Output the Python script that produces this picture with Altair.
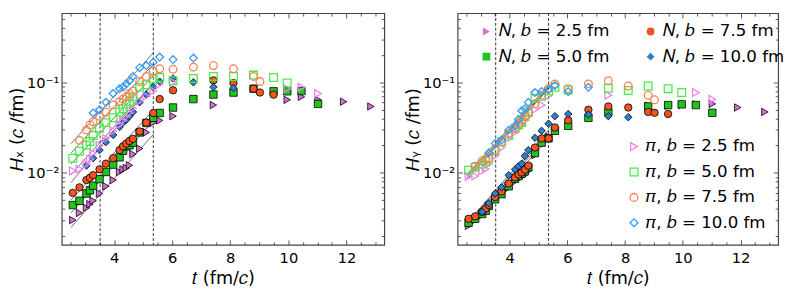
import altair as alt
import pandas as pd

# time grid (fm/c)
T = [2.58, 2.81, 3.05, 3.17, 3.28, 3.50, 3.72, 3.97, 4.19, 4.31, 4.42, 4.53, 4.65,
     4.88, 5.11, 5.35, 5.57, 6.03, 6.73, 7.42, 8.11, 8.80, 9.02, 9.49, 9.96, 10.45,
     11.02, 11.90, 12.84]

N_LABELS = ["𝑁, 𝑏 = 2.5 fm", "𝑁, 𝑏 = 5.0 fm", "𝑁, 𝑏 = 7.5 fm", "𝑁, 𝑏 = 10.0 fm"]
P_LABELS = ["𝜋, 𝑏 = 2.5 fm", "𝜋, 𝑏 = 5.0 fm", "𝜋, 𝑏 = 7.5 fm", "𝜋, 𝑏 = 10.0 fm"]
N_COLORS = ["#D86ED8", "#1FC41F", "#EE5522", "#2A7FD4"]
P_COLORS = ["#EE82EE", "#44EE44", "#FF7F50", "#3399FF"]
SHAPES = ["triangle-right", "square", "circle", "diamond"]

_ = None
# ---- H_x panel ----
HX_N25 = [0.0030, 0.0036, 0.0041, 0.0045, 0.0049, 0.0059, 0.0071, 0.0083, 0.0102, 0.0109, 0.0113, 0.0121, 0.0161,
          0.0185, 0.0279, 0.0358, 0.0379, 0.0422, _, 0.056, _, _, _, _, 0.064, 0.069, 0.064, 0.061, 0.054]
HX_N50 = [0.0044, 0.0049, 0.0059, 0.0064, 0.0072, 0.0085, 0.0102, 0.0123, 0.0148, 0.0175, 0.0196, 0.0201, 0.0215,
          0.0279, 0.0355, 0.0405, 0.0458, 0.0526, 0.0652, 0.0731, 0.0769, 0.0849, _, 0.0794, 0.0794, 0.0801, 0.0577, _, _]
HX_N75 = [0.0060, 0.0069, 0.0083, 0.0088, 0.0094, 0.0109, 0.0126, 0.0145, 0.0178, 0.0196, 0.0210, 0.0224, 0.0237,
          0.0286, 0.0358, 0.0458, 0.0652, 0.0815, _, 0.105, 0.098, 0.0849, 0.077, 0.073, _, _, _, _, _]
HX_N100 = [_, _, 0.0120, _, 0.0145, 0.0178, 0.0218, 0.0262, 0.0321, 0.0358, 0.0386, 0.0422, 0.0469,
           0.0601, 0.0731, 0.0884, 0.1017, 0.110, 0.100, 0.0884, 0.0863, _, _, _, _, _, _, _, _]
HX_P25 = [0.0105, 0.0110, 0.0125, 0.0140, 0.0165, 0.0200, 0.0240, 0.0290, 0.0340, 0.0380, 0.0420, 0.0460, 0.0520,
          0.0620, 0.0700, 0.0800, 0.0950, 0.100, _, _, _, _, _, _, 0.085, 0.088, 0.075, _, _]
HX_P50 = [0.0145, 0.0173, 0.0201, 0.0222, 0.0258, 0.0311, 0.0358, 0.0405, 0.0469, 0.0509, 0.0577, 0.0611, 0.0690,
          0.0884, 0.0936, 0.1086, 0.113, 0.104, 0.110, 0.116, 0.116, 0.120, _, 0.113, 0.098, _, _, _, _]
HX_P75 = [_, 0.0228, 0.0296, 0.0338, 0.0366, 0.0422, 0.0469, 0.0562, 0.0611, 0.0652, 0.0690, 0.0750, 0.0794,
          0.1017, 0.116, 0.133, 0.141, 0.139, 0.147, 0.153, 0.141, 0.116, 0.1017, _, _, _, _, _, _]
HX_P100 = [_, _, _, _, 0.0458, 0.0497, 0.0601, 0.0750, 0.0849, 0.0884, 0.0960, 0.104, 0.116,
           0.145, 0.153, 0.166, 0.190, 0.178, 0.185, _, _, _, _, _, _, _, _, _, _]

# ---- H_y panel ----
HY_N25 = [0.0026, 0.0030, 0.0034, 0.0037, 0.0041, 0.0050, 0.0057, 0.0068, 0.0080, 0.0086, 0.0090, 0.0095, 0.0105,
          0.0157, _, 0.0250, _, _, _, _, _, 0.055, _, 0.055, 0.056, 0.057, 0.0577, 0.0526, 0.047]
HY_N50 = [0.0028, 0.0031, 0.0035, 0.0038, 0.0043, 0.0051, 0.0058, 0.0071, 0.0086, 0.0092, 0.0098, 0.0104, 0.0115,
          0.0165, 0.0215, 0.0240, 0.0291, 0.0330, 0.0405, 0.047, _, 0.054, _, 0.056, 0.057, 0.056, 0.046, _, _]
HY_N75 = [0.0031, 0.0033, 0.0037, 0.0040, 0.0044, 0.0054, 0.0062, 0.0076, 0.0089, 0.0096, 0.0101, 0.0108, 0.0120,
          0.0190, 0.0240, 0.0240, 0.0316, 0.0380, 0.0497, 0.054, 0.0526, 0.047, 0.046, 0.0446, _, _, _, _, _]
HY_N100 = [_, _, 0.0037, _, 0.0046, 0.0059, 0.0069, 0.0094, 0.0109, 0.0118, 0.0126, 0.0153, 0.0178,
           0.0243, 0.0291, 0.0349, 0.0422, 0.0446, 0.044, 0.0422, 0.0411, _, _, _, _, _, _, _, _]
HY_P25 = [0.0091, 0.0092, 0.0105, 0.0110, 0.0125, 0.0154, 0.0190, 0.0240, 0.0280, 0.0310, 0.0340, 0.0380, 0.0420,
          0.0500, 0.0560, 0.0710, _, _, _, 0.072, _, _, _, _, _, 0.077, 0.065, _, _]
HY_P50 = [0.0107, 0.0115, 0.0125, 0.0135, 0.0145, 0.0175, 0.0220, 0.0260, 0.0310, 0.0340, 0.0360, 0.0420, 0.0470,
          0.0660, 0.0700, 0.0800, 0.0880, 0.082, _, 0.086, 0.081, 0.091, _, 0.085, 0.077, _, _, _, _]
HY_P75 = [_, 0.0118, 0.0135, 0.0140, 0.0145, 0.0178, 0.0220, 0.0270, 0.0310, 0.0350, 0.0380, 0.0420, 0.0460,
          0.0580, 0.0720, 0.0850, 0.0960, 0.085, 0.096, 0.104, 0.091, 0.072, 0.064, _, _, _, _, _, _]
HY_P100 = [_, _, _, _, 0.0166, 0.0210, 0.0230, 0.0296, 0.0330, 0.0390, 0.0485, 0.0510, 0.0600,
           0.0770, 0.0790, 0.0830, 0.0920, 0.079, 0.088, _, _, _, _, _, _, _, _, _, _]

# exponential-fit guide lines: start / end times and values
FIT_T = [2.52, 5.37]
HX_FITS = [[0.0025, 0.027], [0.0036, 0.038], [0.0050, 0.050], [0.0078, 0.100],
           [0.0095, 0.100], [0.0125, 0.120], [0.0165, 0.160], [0.0210, 0.215]]
HY_FITS = [[0.0025, 0.024], [0.0026, 0.026], [0.0027, 0.028], [0.0028, 0.030],
           [0.0084, 0.086], [0.0088, 0.088], [0.0092, 0.090], [0.0096, 0.094]]

VLINES = [3.52, 5.35]
Y_MAJOR = [0.01, 0.1]
Y_MINOR = [0.002, 0.003, 0.004, 0.005, 0.006, 0.007, 0.008, 0.009,
           0.02, 0.03, 0.04, 0.05, 0.06, 0.07, 0.08, 0.09, 0.2, 0.3, 0.4, 0.5]
X_TICKS = [4, 6, 8, 10, 12]
X_MINOR = [2.5, 3, 3.5, 4.5, 5, 5.5, 6.5, 7, 7.5, 8.5, 9, 9.5, 10.5, 11, 11.5, 12.5, 13]


def points_df(series_list, labels):
    rows = []
    for vals, lab in zip(series_list, labels):
        for t, v in zip(T, vals):
            if v is not None:
                rows.append({"t": t, "h": v, "series": lab})
    return pd.DataFrame(rows)


def fits_df(fits):
    rows = []
    for i, (a, b) in enumerate(fits):
        rows.append({"t": FIT_T[0], "h": a, "fit": i})
        rows.append({"t": FIT_T[1], "h": b, "fit": i})
    return pd.DataFrame(rows)


FONT = "DejaVu Sans"
XS = alt.Scale(domain=[2.2, 13.3], nice=False, zero=False)
YS = alt.Scale(type="log", domain=[0.0016, 0.58], nice=False)


def tick_axis(orient, values, size):
    return alt.Axis(orient=orient, values=values, tickSize=size, offset=-size, labels=False,
                    title=None, domain=False, grid=False, tickColor="#444444", tickWidth=0.9)


def panel(n_series, p_series, fits, ytitle, show_legend):
    x = alt.X("t:Q", scale=XS,
              axis=alt.Axis(values=X_TICKS, title="𝑡 (fm/𝑐)", ticks=False, labelPadding=6, titlePadding=5))
    y = alt.Y("h:Q", scale=YS,
              axis=alt.Axis(values=Y_MAJOR, title=ytitle, ticks=False, labelPadding=3, titlePadding=0,
                            labelExpr="datum.value == 0.1 ? '10⁻¹' : '10⁻²'"))
    xn = alt.X("t:Q", scale=XS, axis=None)
    yn = alt.Y("h:Q", scale=YS, axis=None)

    fdf = fits_df(fits)
    fit_layer = alt.Chart(fdf).mark_line(color="#333333", strokeWidth=0.7, clip=True).encode(
        x=x, y=y, detail="fit:N")
    vl = alt.Chart(pd.DataFrame({"t": VLINES})).mark_rule(color="black", strokeWidth=0.8, strokeDash=[3, 2]).encode(x=xn)

    tick_layers = []
    for ox, oy, xv, yv, sz in [("bottom", "left", X_TICKS, Y_MAJOR, 5),
                               ("top", "right", X_TICKS, Y_MAJOR, 5),
                               ("bottom", "left", X_MINOR, Y_MINOR, 3),
                               ("top", "right", X_MINOR, Y_MINOR, 3)]:
        tick_layers.append(alt.Chart(fdf).mark_point(opacity=0).encode(
            x=alt.X("t:Q", scale=XS, axis=tick_axis(ox, xv, sz)),
            y=alt.Y("h:Q", scale=YS, axis=tick_axis(oy, yv, sz))))

    if show_legend:
        leg_n = alt.Legend(title=None, orient="none", legendX=21, legendY=10, columns=2, labelFontSize=17,
                           labelFont=FONT, symbolSize=64, rowPadding=8, columnPadding=34,
                           symbolStrokeColor="black", symbolStrokeWidth=0.8, labelLimit=300, labelColor="black")
        leg_p = alt.Legend(title=None, orient="none", legendX=172, legendY=128, labelFontSize=17,
                           labelFont=FONT, symbolSize=64, rowPadding=8, symbolStrokeWidth=1.3,
                           labelLimit=300, labelColor="black")
    else:
        leg_n = None
        leg_p = None

    n_layer = alt.Chart(points_df(n_series, N_LABELS)).mark_point(
        filled=True, stroke="black", strokeWidth=0.8, size=58, opacity=1, clip=True).encode(
        x=xn, y=yn,
        fill=alt.Fill("series:N", scale=alt.Scale(domain=N_LABELS, range=N_COLORS), legend=leg_n),
        shape=alt.Shape("series:N", scale=alt.Scale(domain=N_LABELS, range=SHAPES), legend=leg_n),
    )
    p_layer = alt.Chart(points_df(p_series, P_LABELS)).mark_point(
        filled=False, strokeWidth=1.3, size=62, opacity=1, clip=True).encode(
        x=xn, y=yn,
        stroke=alt.Stroke("series:N", scale=alt.Scale(domain=P_LABELS, range=P_COLORS), legend=leg_p),
        shape=alt.Shape("series:N", scale=alt.Scale(domain=P_LABELS, range=SHAPES), legend=leg_p),
    )
    return alt.layer(fit_layer, vl, *tick_layers, n_layer, p_layer).resolve_scale(
        shape="independent", fill="independent", stroke="independent"
    ).resolve_axis(x="independent", y="independent")


left = panel([HX_N25, HX_N50, HX_N75, HX_N100], [HX_P25, HX_P50, HX_P75, HX_P100],
             HX_FITS, "𝐻ₓ (𝑐 /fm)", False).properties(width=330, height=237)
right = panel([HY_N25, HY_N50, HY_N75, HY_N100], [HY_P25, HY_P50, HY_P75, HY_P100],
              HY_FITS, "𝐻ᵧ (𝑐 /fm)", True).properties(width=328, height=237)

chart = alt.hconcat(left, right, spacing=18).resolve_scale(
    shape="independent", fill="independent", stroke="independent"
).properties(padding={"left": 0, "top": 0, "right": 0, "bottom": 0}).configure_view(
    stroke="#444444", strokeWidth=1.2
).configure_axis(
    domain=False, grid=False, labelFontSize=15, titleFontSize=18, labelFont=FONT, titleFont=FONT,
    titleFontWeight="normal", tickColor="#444444", labelColor="black", titleColor="black"
)

chart.save("out.html", embed_options={"renderer": "svg", "actions": False})
